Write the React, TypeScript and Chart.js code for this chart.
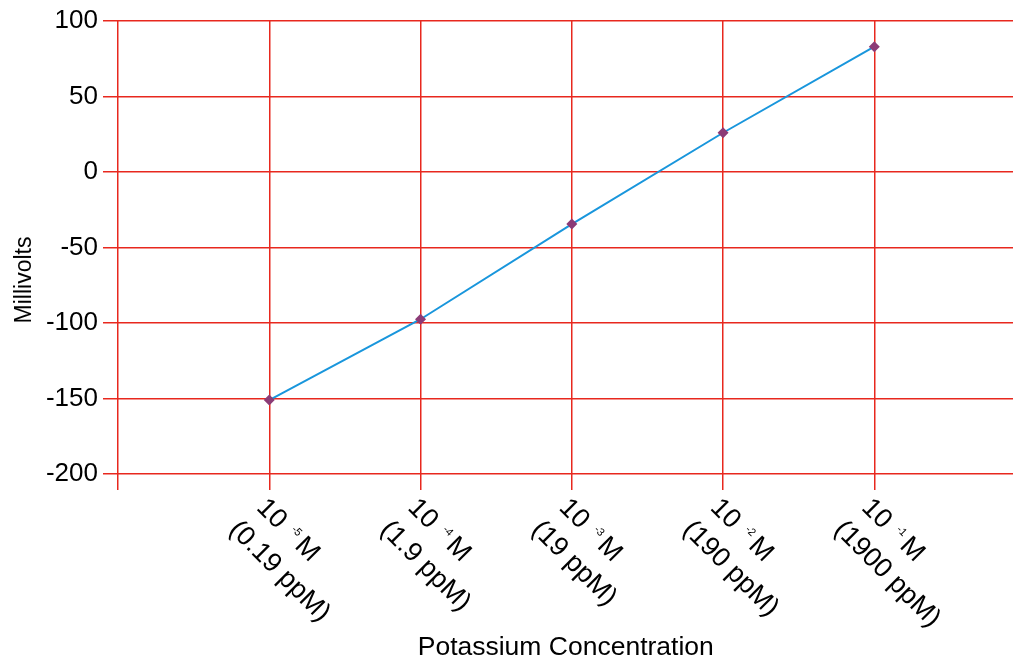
import React, { useEffect, useRef } from "react";
import { Chart, registerables } from "chart.js";

Chart.register(...registerables);

const xPositions = [1, 2, 3, 4, 5];
const millivolts = [-151, -97.5, -34.5, 26, 83];
const exponents = ["-5", "-4", "-3", "-2", "-1"];
const ppmLabels = ["(0.19 ppM)", "(1.9 ppM)", "(19 ppM)", "(190 ppM)", "(1900 ppM)"];
const xGridTicks = [0, 1, 2, 3, 4, 5];
const yTicks = [-200, -150, -100, -50, 0, 50, 100];
const yTitle = "Millivolts";
const xTitle = "Potassium Concentration";

const FONT = "Arial, 'Liberation Sans', Helvetica, sans-serif";
const RED = "#e8281e";

const labelPlugin = {
  id: "customLabels",
  afterDraw(chart: any) {
    const ctx = chart.ctx;
    const xs = chart.scales.x;
    const area = chart.chartArea;
    ctx.save();
    ctx.fillStyle = "#000";
    for (let i = 0; i < xPositions.length; i++) {
      const px = xs.getPixelForValue(xPositions[i]);
      ctx.save();
      ctx.translate(px - 1, area.bottom + 22);
      ctx.rotate(Math.PI / 4);
      ctx.textAlign = "left";
      ctx.textBaseline = "alphabetic";
      ctx.font = `27px ${FONT}`;
      ctx.fillText("10", 0, 18);
      const w10 = ctx.measureText("10").width;
      ctx.font = `11px ${FONT}`;
      ctx.fillText(exponents[i], w10 + 10, 8);
      ctx.font = `27px ${FONT}`;
      ctx.fillText("M", w10 + 24, 18);
      ctx.fillText(ppmLabels[i], -4, 53);
      ctx.restore();
    }
    // axis titles
    ctx.textAlign = "center";
    ctx.textBaseline = "middle";
    ctx.font = `26.5px ${FONT}`;
    ctx.fillText(xTitle, (area.left + area.right) / 2, 648);
    ctx.font = `23px ${FONT}`;
    ctx.save();
    ctx.translate(25, 280);
    ctx.rotate(-Math.PI / 2);
    ctx.fillText(yTitle, 0, 0);
    ctx.restore();
    ctx.restore();
  },
};

export default function App() {
  const ref = useRef<HTMLCanvasElement>(null);
  useEffect(() => {
    if (!ref.current) return;
    const chart = new Chart(ref.current, {
      type: "line",
      data: {
        datasets: [
          {
            data: xPositions.map((x, i) => ({ x, y: millivolts[i] })),
            borderColor: "#1996dc",
            borderWidth: 2,
            pointStyle: "rectRot",
            pointRadius: 5.5,
            pointBackgroundColor: "#8c3b76",
            pointBorderWidth: 0,
            tension: 0,
          },
        ],
      },
      options: {
        responsive: false,
        animation: false,
        devicePixelRatio: 1,
        layout: { padding: { top: 21, right: 0, left: 0, bottom: 0 } },
        plugins: { legend: { display: false }, tooltip: { enabled: false } },
        scales: {
          x: {
            type: "linear",
            min: 0,
            max: 5.92,
            afterBuildTicks: (s: any) => {
              s.ticks = xGridTicks.map((v) => ({ value: v }));
            },
            afterFit: (s: any) => {
              s.height = 186;
            },
            grid: { color: RED, lineWidth: 1.5, tickLength: 16 },
            border: { display: false },
            ticks: { display: false },
          },
          y: {
            min: -200,
            max: 100,
            afterBuildTicks: (s: any) => {
              s.ticks = yTicks.map((v) => ({ value: v }));
            },
            afterFit: (s: any) => {
              s.width = 118;
            },
            grid: { color: RED, lineWidth: 1.5, tickLength: 15 },
            border: { display: false },
            ticks: { color: "#000", font: { size: 26, family: FONT }, padding: 5 },
          },
        },
      },
      plugins: [labelPlugin],
    });
    return () => chart.destroy();
  }, []);
  return (
    <div style={{ position: "fixed", left: 0, top: 0, width: 1013, height: 660, overflow: "hidden", background: "#fff" }}>
      <canvas ref={ref} width={1019} height={660} style={{ width: 1019, height: 660, display: "block" }} />
    </div>
  );
}
